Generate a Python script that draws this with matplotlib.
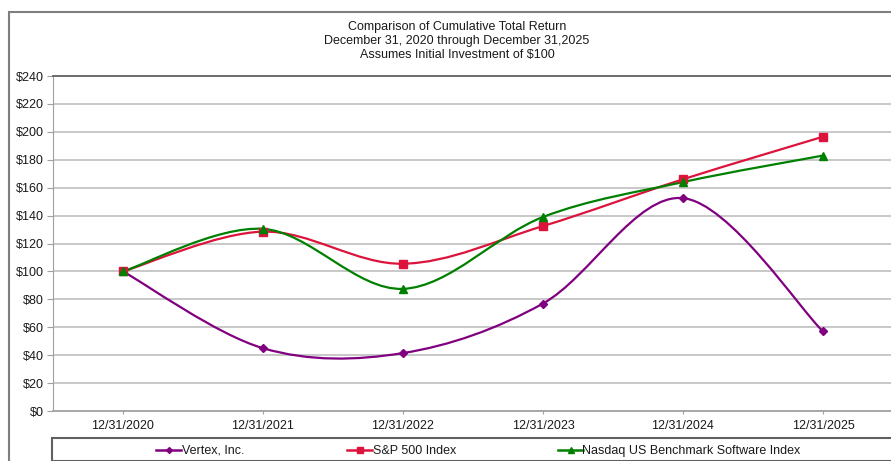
import matplotlib
matplotlib.use("Agg")
import matplotlib.pyplot as plt
from matplotlib.path import Path
from matplotlib.patches import PathPatch, Rectangle
from matplotlib.lines import Line2D
import numpy as np

plt.rcParams['font.family'] = ['Liberation Sans', 'DejaVu Sans']

categories = ["12/31/2020", "12/31/2021", "12/31/2022", "12/31/2023", "12/31/2024", "12/31/2025"]
vertex = [100, 45, 41.5, 77, 152.5, 57]
sp500 = [100, 128.5, 105.5, 132.5, 166, 196.5]
nasdaq = [100, 130.5, 87.5, 139, 164, 183]
yticks = list(range(0, 241, 20))
ytick_labels = ["$%d" % v for v in yticks]

series = [
    ("Vertex, Inc.", vertex, "#800080", "D", 3.8),
    ("S&P 500 Index", sp500, "#DC143C", "s", 5.2),
    ("Nasdaq US Benchmark Software Index", nasdaq, "#008000", "^", 5.8),
]

W, H = 891, 461
fig = plt.figure(figsize=(W / 100, H / 100), dpi=100)

# outer frame
fig.add_artist(Rectangle((9 / W, -0.1), 1.2, (H - 12) / H + 0.1, transform=fig.transFigure,
                         fill=False, edgecolor="#7f7f7f", linewidth=1.5))

ax = fig.add_axes([53 / W, (H - 411) / H, 840 / W, 335 / H])
ax.set_xlim(-0.5, 5.5)
ax.set_ylim(0, 240)
ax.set_yticks(yticks)
ax.set_yticklabels(ytick_labels)
x = np.arange(len(categories))
ax.set_xticks(x)
ax.set_xticklabels(categories)
for yv in yticks[1:-1]:
    ax.axhline(yv, color="#c4c4c4", linewidth=1.3, zorder=1)
ax.spines["right"].set_visible(False)
ax.spines["top"].set_color("#606060")
ax.spines["top"].set_linewidth(1.3)
ax.spines["left"].set_color("#a0a0a0")
ax.spines["bottom"].set_color("#a0a0a0")
ax.spines["bottom"].set_linewidth(1.3)
ax.tick_params(axis="y", length=4.5, color="#a0a0a0", labelsize=9, pad=2, labelcolor="#1a1a1a")
ax.tick_params(axis="x", length=2.5, color="#a0a0a0", labelsize=9, pad=4, labelcolor="#1a1a1a")


def smooth_path(xs, ys):
    pts = np.column_stack([xs, ys]).astype(float)
    n = len(pts)
    verts = [pts[0]]
    codes = [Path.MOVETO]
    for i in range(n - 1):
        p0 = pts[i - 1] if i > 0 else pts[i]
        p1 = pts[i]
        p2 = pts[i + 1]
        p3 = pts[i + 2] if i + 2 < n else pts[i + 1]
        c1 = p1 + (p2 - p0) / 6.0
        c2 = p2 - (p3 - p1) / 6.0
        verts += [c1, c2, p2]
        codes += [Path.CURVE4] * 3
    return Path(verts, codes)


for name, vals, color, mk, ms in series:
    ax.add_patch(PathPatch(smooth_path(x, vals), facecolor="none", edgecolor=color,
                           linewidth=1.6, zorder=3, clip_on=False))
    ax.plot(x, vals, linestyle="none", marker=mk, color=color, markersize=ms, zorder=4, clip_on=False)

# title
fig.text(457 / W, 1 - 27 / H, "Comparison of Cumulative Total Return", ha="center", va="center", fontsize=9, color="#1a1a1a")
fig.text(457 / W, 1 - 41 / H, "December 31, 2020 through December 31,2025", ha="center", va="center", fontsize=9, color="#1a1a1a")
fig.text(457 / W, 1 - 55 / H, "Assumes Initial Investment of $100", ha="center", va="center", fontsize=9, color="#1a1a1a")

# legend
fig.add_artist(Rectangle((52 / W, (H - 461) / H), 1.0, 23 / H, transform=fig.transFigure,
                         fill=False, edgecolor="#606060", linewidth=1.5))
ly = 1 - 450 / H
leg_pos = [(156, 182), (347, 373), (558, 582)]
for (name, vals, color, mk, ms), (hx, tx) in zip(series, leg_pos):
    fig.add_artist(Line2D([hx / W, (hx + 25) / W], [ly, ly], transform=fig.transFigure,
                          color=color, linewidth=1.8))
    fig.add_artist(Line2D([(hx + 12.5) / W], [ly], transform=fig.transFigure, color=color,
                          marker=mk, markersize=ms - 0.8, linestyle="none"))
    fig.text(tx / W, ly - 0.002, name, ha="left", va="center", fontsize=9, color="#1a1a1a")

fig.savefig("out.png", dpi=100)
